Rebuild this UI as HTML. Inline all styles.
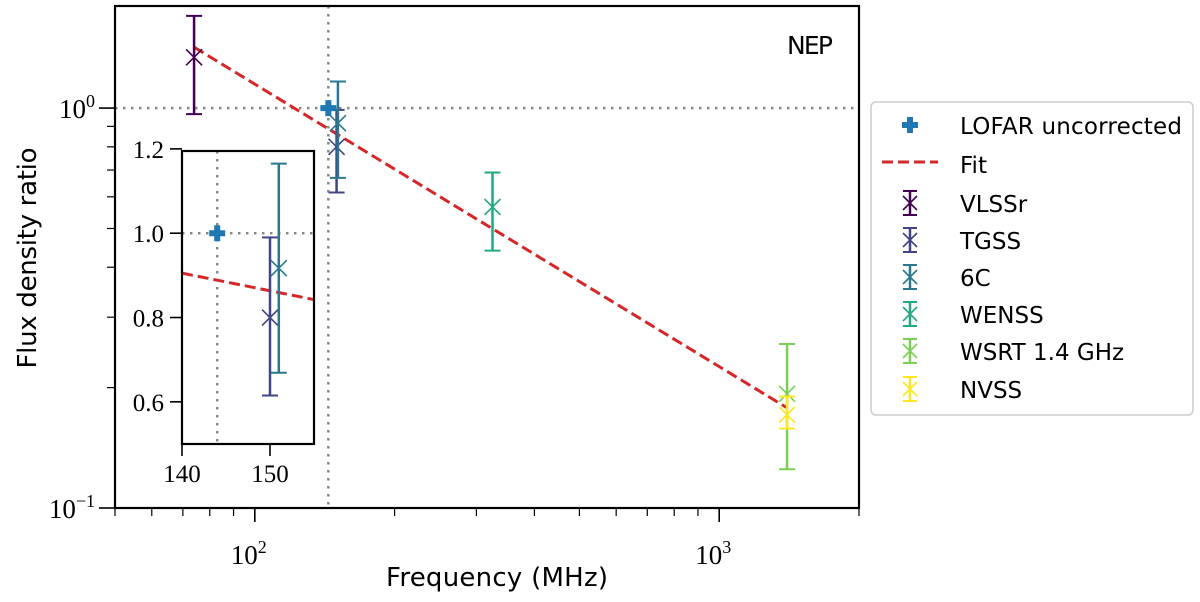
<!DOCTYPE html>
<html><head><meta charset="utf-8"><style>
html,body{margin:0;padding:0;background:#fff;}
svg{display:block;}
.serif{font-family:"Liberation Serif",serif;}
.sans{font-family:"DejaVu Sans","Liberation Sans",sans-serif;}
</style></head><body>
<svg id="chart" width="1200" height="602" viewBox="0 0 1200 602">
<g id="main"></g>
<g id="inset"></g>
<g id="legend"></g>
</svg>
<script>
const surveys = ["VLSSr","TGSS","6C","WENSS","WSRT 1.4 GHz","NVSS"];
const surveyColors = ["#440154","#414487","#2a788e","#22a884","#7ad151","#fde725"];
const freqs = [74, 150, 151, 325, 1400, 1400];
const ratios = [1.34, 0.80, 0.917, 0.566, 0.193, 0.171];
const errHigh = [1.70, 0.99, 1.165, 0.69, 0.257, 0.19];
const errLow = [0.966, 0.615, 0.669, 0.44, 0.125, 0.158];
const lofarFreq = [144];
const lofarRatio = [1.0];
const fitFreq = [74, 1400];
const fitRatio = [1.42, 0.178];
const fitSlope = [-0.706];
const xTickVals = [100, 1000];
const xTickLabels = ["2","3"];
const yTickVals = [0.1, 1];
const yTickLabels = ["\u22121","0"];
const insetXTicks = [140, 150];
const insetYTicks = [0.6, 0.8, 1.0, 1.2];

const NS="http://www.w3.org/2000/svg";
function mk(tag, attrs, parent, text){const e=document.createElementNS(NS,tag);for(const k in attrs)e.setAttribute(k,attrs[k]);if(text!==undefined)e.textContent=text;parent.appendChild(e);return e;}
const L=115,R=859,T=6,B=508;
const xmin=Math.log10(50), xmax=Math.log10(2000), ymin=-1, ymax=Math.log10(1.8);
const X=f=>L+(Math.log10(f)-xmin)/(xmax-xmin)*(R-L);
const Y=v=>B-(Math.log10(v)-ymin)/(ymax-ymin)*(B-T);
const main=document.getElementById('main');

let g=mk('line',{x1:L,x2:R,y1:Y(1),y2:Y(1),stroke:'#888','stroke-width':2.5,'stroke-dasharray':'2.5,5.5'},main);

g=mk('line',{x1:X(lofarFreq[0]),x2:X(lofarFreq[0]),y1:T,y2:B,stroke:'#888','stroke-width':2.5,'stroke-dasharray':'2.5,5.5'},main);


for(let d=1;d<=3;d++)for(let m=1;m<10;m++){const f=m*Math.pow(10,d);if(f<50||f>2000)continue;const major=m===1;
 const t=mk('line',{x1:X(f),x2:X(f),y1:B,y2:B+(major?14:8),stroke:'#000','stroke-width':major?1.6:1.2},main);
 }
xTickVals.forEach((v,i)=>{const t=mk('text',{x:X(v)-6,y:B+56,'text-anchor':'middle','font-size':27,class:'serif'},main);
 
 mk('tspan',{},t,'10');mk('tspan',{dy:-11,'font-size':18},t,xTickLabels[i]);});
for(let d=-1;d<=0;d++)for(let m=1;m<10;m++){const v=m*Math.pow(10,d);if(v>1.8)continue;const major=m===1;
 const t=mk('line',{x1:L-(major?16:8),x2:L,y1:Y(v),y2:Y(v),stroke:'#000','stroke-width':major?1.6:1.2},main);
 }
yTickVals.forEach((v,i)=>{const t=mk('text',{x:L-20,y:Y(v)+10,'text-anchor':'end','font-size':27,class:'serif'},main);
 
 mk('tspan',{},t,'10');mk('tspan',{dy:-11,'font-size':18},t,yTickLabels[i]);});

g=mk('line',{x1:X(fitFreq[0]),y1:Y(fitRatio[0]),x2:X(fitFreq[1]),y2:Y(fitRatio[1]),stroke:'#d62728','stroke-width':3,'stroke-dasharray':'11,5'},main);


function errbar(parent,x,yv,yh,yl,col,name,cap,xs){
 const gg=mk('g',{},parent);
 mk('line',{x1:x,x2:x,y1:yh,y2:yl,stroke:col,'stroke-width':2.5},gg);
 mk('line',{x1:x-cap,x2:x+cap,y1:yh,y2:yh,stroke:col,'stroke-width':2},gg);
 mk('line',{x1:x-cap,x2:x+cap,y1:yl,y2:yl,stroke:col,'stroke-width':2},gg);
 mk('path',{d:`M${x-xs},${yv-xs}L${x+xs},${yv+xs}M${x-xs},${yv+xs}L${x+xs},${yv-xs}`,stroke:col,'stroke-width':1.6,fill:'none'},gg);
}
function plus(parent,x,y,name){const p=mk('path',{d:`M${x-8},${y-3}h5v-5h6v5h5v6h-5v5h-6v-5h-5z`,fill:'#1f77b4'},parent);
 }

freqs.forEach((f,i)=>errbar(main,X(f),Y(ratios[i]),Y(errHigh[i]),Y(errLow[i]),surveyColors[i],'point-'+surveys[i].toLowerCase().replace(/[^a-z0-9]+/g,'-'),8,8));
plus(main,X(lofarFreq[0]),Y(lofarRatio[0]),'lofar-point');

g=mk('rect',{x:L,y:T,width:R-L,height:B-T,fill:'none',stroke:'#000','stroke-width':2.2},main);

g=mk('text',{x:810,y:54,'text-anchor':'middle','font-size':25,class:'sans',textLength:46},main,'NEP');

g=mk('text',{x:(L+R)/2+10,y:586,'text-anchor':'middle','font-size':26,class:'sans',textLength:222},main,'Frequency (MHz)');

g=mk('text',{x:0,y:0,'text-anchor':'middle','font-size':26,class:'sans',textLength:221,transform:'translate(36,258) rotate(-90)'},main,'Flux density ratio');


const inset=document.getElementById('inset');
const iL=182,iR=314,iT=151,iB=444;
const IX=f=>iL+(f-140)/(155-140)*(iR-iL);
const IY=v=>iB-(v-0.5)/(1.195-0.5)*(iB-iT);
mk('rect',{x:iL,y:iT,width:iR-iL,height:iB-iT,fill:'#fff'},inset);
g=mk('line',{x1:iL,x2:iR,y1:IY(1),y2:IY(1),stroke:'#888','stroke-width':2.5,'stroke-dasharray':'2.5,5.5'},inset);

g=mk('line',{x1:IX(lofarFreq[0]),x2:IX(lofarFreq[0]),y1:iT,y2:iB,stroke:'#888','stroke-width':2.5,'stroke-dasharray':'2.5,5.5'},inset);

const fitAt=f=>fitRatio[0]*Math.pow(f/fitFreq[0],fitSlope[0]);
g=mk('line',{x1:IX(140),y1:IY(fitAt(140)),x2:IX(155),y2:IY(fitAt(155)),stroke:'#d62728','stroke-width':3,'stroke-dasharray':'11,5'},inset);

freqs.forEach((f,i)=>{if(f<140||f>155)return;errbar(inset,IX(f),IY(ratios[i]),IY(errHigh[i]),IY(errLow[i]),surveyColors[i],'inset-point-'+surveys[i].toLowerCase(),8,8);});
plus(inset,IX(lofarFreq[0]),IY(lofarRatio[0]),'inset-lofar-point');
g=mk('rect',{x:iL,y:iT,width:iR-iL,height:iB-iT,fill:'none',stroke:'#000','stroke-width':2.2},inset);

insetXTicks.forEach(v=>{const t=mk('line',{x1:IX(v),x2:IX(v),y1:iB,y2:iB+12,stroke:'#000','stroke-width':1.6},inset);
 
 const l=mk('text',{x:IX(v),y:iB+38,'text-anchor':'middle','font-size':25,class:'serif'},inset,String(v));
 });
insetYTicks.forEach(v=>{const t=mk('line',{x1:iL-12,x2:iL,y1:IY(v),y2:IY(v),stroke:'#000','stroke-width':1.6},inset);
 
 const l=mk('text',{x:iL-18,y:IY(v)+9,'text-anchor':'end','font-size':25,class:'serif'},inset,v.toFixed(1));
 });

const lg=document.getElementById('legend');
g=mk('rect',{x:871,y:102,width:322,height:313,rx:5,fill:'#fff',stroke:'#ccc','stroke-width':1.5},lg);

const rowsY=[125,164,203,240,277,314,351,389];
const labelWidths=[222,0,0,0,0,0,0,0];
function entry(i,label){const e=mk('g',{},lg);
 const a={x:960,y:rowsY[i]+9,'font-size':23,class:'sans'};if(i===0)a.textLength=222;
 mk('text',a,e,label);return e;}
let e=entry(0,'LOFAR uncorrected');plus(e,910,rowsY[0],'legend-lofar-marker');
e=entry(1,'Fit');mk('line',{x1:882,x2:938,y1:rowsY[1]-2,y2:rowsY[1]-2,stroke:'#d62728','stroke-width':3,'stroke-dasharray':'11,5'},e);
surveys.forEach((s,i)=>{const ee=entry(i+2,s);const y=rowsY[i+2];errbar(ee,910,y,y-12,y+12,surveyColors[i],'legend-marker',7,7);});
</script>
</body></html>
